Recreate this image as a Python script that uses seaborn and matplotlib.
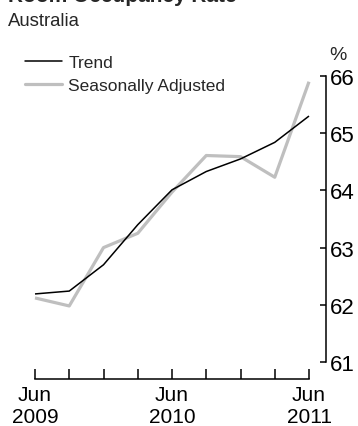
import pandas as pd
import seaborn as sns
import matplotlib.pyplot as plt
from matplotlib.lines import Line2D

sns.set_theme(style="white")
plt.rcParams["font.family"] = ["Liberation Sans", "DejaVu Sans"]

quarters = ["Jun 2009", "Sep 2009", "Dec 2009", "Mar 2010", "Jun 2010",
            "Sep 2010", "Dec 2010", "Mar 2011", "Jun 2011"]
trend = [62.19, 62.24, 62.70, 63.40, 64.01, 64.33, 64.55, 64.84, 65.30]
seas_adj = [62.12, 61.98, 63.00, 63.25, 63.97, 64.61, 64.59, 64.23, 65.90]
tick_labels = ["Jun\n2009", "Jun\n2010", "Jun\n2011"]

df = pd.DataFrame({
    "q": list(range(len(quarters))) * 2,
    "value": trend + seas_adj,
    "series": ["Trend"] * len(trend) + ["Seasonally Adjusted"] * len(seas_adj),
})

W, H = 358, 427
fig = plt.figure(figsize=(W / 100, H / 100), dpi=100)
ax = fig.add_axes([35 / W, (H - 363) / H, (309 - 35) / W, (363 - 77) / H])

sns.lineplot(data=df, x="q", y="value", hue="series", ax=ax,
             hue_order=["Seasonally Adjusted", "Trend"],
             palette={"Trend": "black", "Seasonally Adjusted": "#bfbfbf"},
             size="series", sizes={"Trend": 1.1, "Seasonally Adjusted": 2.3},
             legend=False, clip_on=False)
for ln in ax.lines:
    ln.set_solid_capstyle("butt")

ax.set_xlim(0, 8)
ax.set_ylim(61, 66)
ax.set_xlabel("")
ax.set_ylabel("")

for s in ["top", "left"]:
    ax.spines[s].set_visible(False)
ax.spines["right"].set_position(("outward", 12))
ax.spines["bottom"].set_position(("outward", 12))
for s in ["right", "bottom"]:
    ax.spines[s].set_color("black")
    ax.spines[s].set_linewidth(1.1)

ax.yaxis.tick_right()
ax.set_yticks([61, 62, 63, 64, 65, 66])
ax.tick_params(axis="y", right=True, left=False, direction="in", length=4,
               width=1.1, labelsize=16, pad=3, colors="black")
ax.set_xticks(range(len(quarters)))
ax.set_xticklabels([tick_labels[i // 4] if i % 4 == 0 else "" for i in range(len(quarters))])
ax.tick_params(axis="x", bottom=True, direction="in", length=7.5, width=1.1,
               labelsize=15, pad=4.5, colors="black")
for lbl in ax.get_xticklabels():
    lbl.set_linespacing(1.2)

handles = [Line2D([], [], color="black", lw=1.1),
           Line2D([], [], color="#bfbfbf", lw=2.3)]
fig.legend(handles, ["Trend", "Seasonally Adjusted"], loc="upper left",
           bbox_to_anchor=(25 / W, 1 - 56 / H), frameon=False, fontsize=12.5,
           handlelength=2.15, handletextpad=0.35, labelspacing=0.45,
           borderaxespad=0, borderpad=0)

fig.text(8 / W, 1 + 13 / H, "Room Occupancy Rate", fontsize=15, fontweight="bold",
         va="top", ha="left")
fig.text(8 / W, 1 - 26 / H, "Australia", fontsize=13.3, va="baseline", ha="left")
fig.text(338 / W, 1 - 60 / H, "%", fontsize=14, va="baseline", ha="center")

fig.savefig("out.png", dpi=100)
